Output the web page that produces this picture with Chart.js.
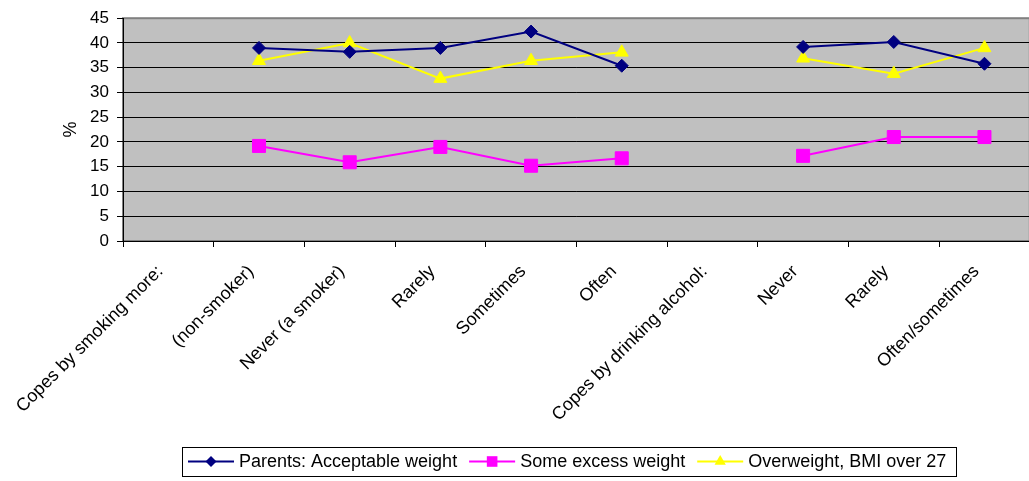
<!DOCTYPE html>
<html>
<head>
<meta charset="utf-8">
<script src="https://cdn.jsdelivr.net/npm/chart.js@4/dist/chart.umd.min.js"></script>
<style>
    html, body { margin: 0; padding: 0; background: #fff; overflow: hidden; }
    #wrap { position: relative; width: 1040px; height: 481px; }
</style>
</head>
<body>
<div id="wrap"><canvas id="chartCanvas"></canvas></div>
<script>
const categories = [
    'Copes by smoking more:', '(non-smoker)', 'Never (a smoker)', 'Rarely', 'Sometimes', 'Often',
    'Copes by drinking alcohol:', 'Never', 'Rarely', 'Often/sometimes'
];
const acceptableWeight = [null, 39.0, 38.2, 39.0, 42.3, 35.4, null, 39.2, 40.2, 35.8];
const someExcessWeight = [null, 19.2, 15.9, 19.0, 15.2, 16.7, null, 17.2, 21.0, 21.0];
const overweightBmi27 = [null, 36.4, 40.0, 32.8, 36.4, 38.1, null, 36.9, 33.8, 39.0];
const seriesNames = ['Parents: Acceptable weight', 'Some excess weight', 'Overweight, BMI over 27'];
const yTicks = [0, 5, 10, 15, 20, 25, 30, 35, 40, 45];

const FONT = '"Liberation Sans", Arial, sans-serif';

// grey plot area with its border, Excel style
const plotBackground = {
    id: 'plotBackground',
    beforeDraw(chart) {
        const { ctx, chartArea: a } = chart;
        ctx.save();
        ctx.fillStyle = '#c0c0c0';
        ctx.fillRect(a.left, a.top, a.right - a.left, a.bottom - a.top);
        ctx.strokeStyle = '#808080';
        ctx.lineWidth = 2;
        ctx.strokeRect(a.left, a.top, a.right - a.left, a.bottom - a.top);
        ctx.restore();
    }
};

// boxed legend with line + marker samples
const boxLegend = {
    id: 'boxLegend',
    afterDraw(chart) {
        const ctx = chart.ctx;
        const top = 447, bottom = 476, left = 182, right = 956;
        const cy = (top + bottom) / 2;
        ctx.save();
        ctx.strokeStyle = '#000';
        ctx.lineWidth = 1;
        ctx.strokeRect(left + 0.5, top + 0.5, right - left, bottom - top);
        ctx.font = '18px ' + FONT;
        ctx.textBaseline = 'middle';
        ctx.textAlign = 'left';
        let x = 188;
        chart.data.datasets.forEach(ds => {
            ctx.strokeStyle = ds.borderColor;
            ctx.lineWidth = 2;
            ctx.beginPath();
            ctx.moveTo(x, cy);
            ctx.lineTo(x + 46, cy);
            ctx.stroke();
            ctx.fillStyle = ds.pointBackgroundColor;
            ctx.strokeStyle = ds.pointBorderColor;
            ctx.lineWidth = 1;
            Chart.helpers.drawPoint(ctx, { pointStyle: ds.pointStyle, radius: ds.legendRadius, rotation: 0 }, x + 23, cy);
            x += 51;
            ctx.fillStyle = '#000';
            ctx.fillText(ds.label, x, cy + 1);
            x += ctx.measureText(ds.label).width + 12;
        });
        ctx.restore();
    }
};

function makeSet(label, data, color, style, radius, legendRadius) {
    return {
        label,
        data,
        borderColor: color,
        backgroundColor: color,
        pointBackgroundColor: color,
        pointBorderColor: color,
        borderWidth: 2,
        pointStyle: style,
        pointRadius: radius,
        pointBorderWidth: 1,
        legendRadius,
        spanGaps: false,
        tension: 0
    };
}

document.addEventListener('DOMContentLoaded', function() {
    const ctx = document.getElementById('chartCanvas').getContext('2d');
    new Chart(ctx, {
        type: 'line',
        data: {
            labels: categories,
            datasets: [
                makeSet(seriesNames[0], acceptableWeight, '#000080', 'rectRot', 6.5, 5.5),
                makeSet(seriesNames[1], someExcessWeight, '#ff00ff', 'rect', 9.2, 7.5),
                makeSet(seriesNames[2], overweightBmi27, '#ffff00', 'triangle', 7.5, 6.5)
            ]
        },
        options: {
            responsive: true,
            maintainAspectRatio: false,
            animation: false,
            layout: { padding: { top: 18, right: 5, left: 0, bottom: 0 } },
            plugins: {
                legend: { display: false },
                tooltip: { enabled: false }
            },
            scales: {
                x: {
                    offset: true,
                    grid: {
                        offset: true,
                        drawOnChartArea: false,
                        drawTicks: true,
                        tickLength: 6,
                        color: '#000'
                    },
                    border: { color: '#000', width: 1 },
                    ticks: {
                        autoSkip: false,
                        maxRotation: 45,
                        minRotation: 45,
                        padding: 14,
                        labelOffset: -8,
                        color: '#000',
                        font: { family: FONT, size: 18 }
                    },
                    afterFit(scale) { scale.height = 240; }
                },
                y: {
                    min: 0,
                    max: 45,
                    afterBuildTicks(scale) { scale.ticks = yTicks.map(v => ({ value: v })); },
                    grid: {
                        color: c => (c.tick && c.tick.value === 45 ? '#808080' : '#000'),
                        tickColor: '#000',
                        tickLength: 6,
                        lineWidth: 1
                    },
                    border: { color: '#000', width: 1 },
                    ticks: {
                        padding: 8,
                        color: '#000',
                        font: { family: FONT, size: 17 }
                    },
                    title: {
                        display: true,
                        text: '%',
                        color: '#000',
                        padding: { top: 60, bottom: 0 },
                        font: { family: FONT, size: 18 }
                    },
                    afterFit(scale) { scale.width = 123; }
                }
            }
        },
        plugins: [plotBackground, boxLegend]
    });
});
</script>
</body>
</html>
